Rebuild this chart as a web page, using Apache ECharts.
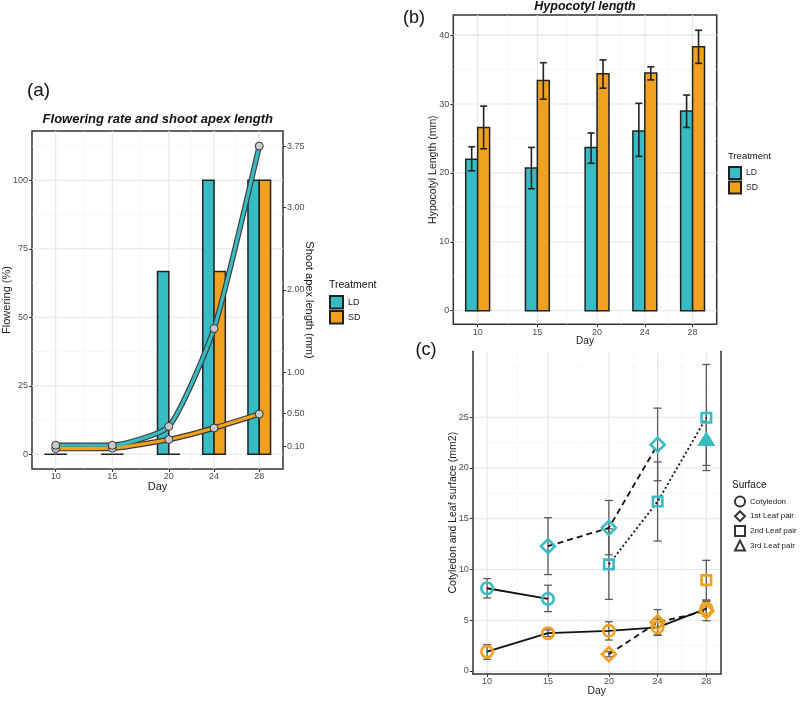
<!DOCTYPE html>
<html><head><meta charset="utf-8">
<script src="https://cdn.jsdelivr.net/npm/echarts@6/dist/echarts.min.js"></script>
<style>html,body{margin:0;padding:0;background:#fff}#c{width:800px;height:701px}</style>
</head><body><div id="c"></div><script>
// ---------- shared ----------
const days = [10, 15, 20, 24, 28];
// ---------- (a) flowering rate (%) and shoot apex length (mm) ----------
const flowerLD = [0, 0, 66.7, 100, 100];
const flowerSD = [0, 0, 0, 66.7, 100];
const apexLD = [0.11, 0.11, 0.34, 1.53, 3.75];
const apexSD = [0.07, 0.075, 0.18, 0.32, 0.49];
const flowerTicks = [0, 25, 50, 75, 100];
const apexTicks = [0.10, 0.50, 1.00, 2.00, 3.00, 3.75];
// ---------- (b) hypocotyl length (mm) ----------
const hypoLD   = [22.0, 20.7, 23.7, 26.1, 29.0];
const hypoLDlo = [20.3, 17.7, 21.4, 22.4, 26.6];
const hypoLDhi = [23.8, 23.7, 25.8, 30.1, 31.3];
const hypoSD   = [26.6, 33.4, 34.4, 34.5, 38.3];
const hypoSDlo = [23.5, 30.7, 32.3, 33.5, 35.9];
const hypoSDhi = [29.7, 36.0, 36.4, 35.4, 40.7];
const hypoTicks = [0, 10, 20, 30, 40];
// ---------- (c) cotyledon and leaf surface (mm2) ----------
const ldCotDays = [10, 15];          const ldCot = [8.15, 7.1];   const ldCotLo = [7.2, 5.85];  const ldCotHi = [9.1, 8.45];
const ldL1Days = [15, 20, 24];       const ldL1 = [12.3, 14.1, 22.3]; const ldL1Lo = [9.5, 11.45, 18.75]; const ldL1Hi = [15.1, 16.8, 25.9];
const ldL2Days = [20, 24, 28];       const ldL2 = [10.5, 16.7, 24.95]; const ldL2Lo = [7.05, 12.8, 19.75]; const ldL2Hi = [14.0, 20.6, 30.2];
const ldL3Days = [28];               const ldL3 = [22.9];        const ldL3Lo = [20.25];      const ldL3Hi = [25.4];
const sdCotDays = [10, 15, 20, 24, 28]; const sdCot = [1.9, 3.72, 3.95, 4.3, 6.15]; const sdCotLo = [1.15, 3.4, 3.05, 3.5, 5.4]; const sdCotHi = [2.6, 4.05, 4.85, 5.1, 6.9];
const sdL1Days = [20, 24, 28];       const sdL1 = [1.65, 4.8, 5.9];  const sdL1Lo = [1.4, 3.55, 4.95]; const sdL1Hi = [1.9, 6.05, 6.85];
const sdL2Days = [28];               const sdL2 = [8.95];        const sdL2Lo = [7.0];        const sdL2Hi = [10.9];
const surfTicks = [0, 5, 10, 15, 20, 25];
const surfaceNames = ['Cotyledon', '1st Leaf pair', '2nd Leaf pair', '3rd Leaf pair'];

const teal = '#38BCC3', orange = '#F2A11F';
const FONT = "'Liberation Sans', Arial, Helvetica, sans-serif";
const BAR = 1; // bar width in days

function mids(arr) { const r = []; for (let i = 0; i < arr.length - 1; i++) r.push((arr[i] + arr[i + 1]) / 2); return r; }

function gridSeries(xi, yi, xMaj, xMin, yMaj, yMin) {
  const data = [];
  xMaj.forEach(v => data.push([v, 0])); xMin.forEach(v => data.push([v, 1]));
  yMaj.forEach(v => data.push([v, 2])); yMin.forEach(v => data.push([v, 3]));
  return {
    type: 'custom', xAxisIndex: xi, yAxisIndex: yi, silent: true, z: 0, data,
    renderItem(params, api) {
      const v = api.value(0), k = api.value(1), cs = params.coordSys;
      let shape;
      if (k < 2) { const x = api.coord([v, 0])[0]; shape = { x1: x, y1: cs.y, x2: x, y2: cs.y + cs.height }; }
      else { const y = api.coord([0, v])[1]; shape = { x1: cs.x, y1: y, x2: cs.x + cs.width, y2: y }; }
      const major = (k % 2 === 0);
      return { type: 'line', shape, style: { stroke: major ? '#E6E6E6' : '#F1F1F1', lineWidth: major ? 1.1 : 0.6 } };
    }
  };
}

function barSeries(name, xi, yi, vals, color, side) {
  return {
    type: 'custom', name, xAxisIndex: xi, yAxisIndex: yi, z: 2,
    itemStyle: { color, borderColor: '#222', borderWidth: 1.5 },
    data: days.map((d, i) => [d, vals[i]]),
    renderItem(params, api) {
      const d = api.value(0), v = api.value(1);
      const x0 = side < 0 ? d - BAR : d, x1 = side < 0 ? d : d + BAR;
      const p0 = api.coord([x0, 0]), p1 = api.coord([x1, v]);
      return { type: 'rect', shape: { x: p0[0], y: p1[1], width: p1[0] - p0[0], height: p0[1] - p1[1] },
        style: { fill: color, stroke: '#222', lineWidth: 1.5 } };
    }
  };
}

function errSeries(xi, yi, ds, lo, hi, offset, color, lw, cap, z) {
  return {
    type: 'custom', xAxisIndex: xi, yAxisIndex: yi, silent: true, z,
    data: ds.map((d, i) => [d, lo[i], hi[i]]),
    renderItem(params, api) {
      const d = api.value(0);
      const pl = api.coord([d + offset, api.value(1)]), ph = api.coord([d + offset, api.value(2)]);
      const st = { stroke: color, lineWidth: lw };
      return { type: 'group', children: [
        { type: 'line', shape: { x1: pl[0], y1: pl[1], x2: ph[0], y2: ph[1] }, style: st },
        { type: 'line', shape: { x1: pl[0] - cap, y1: pl[1], x2: pl[0] + cap, y2: pl[1] }, style: st },
        { type: 'line', shape: { x1: ph[0] - cap, y1: ph[1], x2: ph[0] + cap, y2: ph[1] }, style: st }
      ] };
    }
  };
}

function apexSeries(vals, color) {
  const data = days.map((d, i) => [d, vals[i]]);
  return [
    { type: 'line', xAxisIndex: 0, yAxisIndex: 1, data, smooth: 0.18, symbol: 'none', z: 3,
      lineStyle: { color: '#3a3a3a', width: 5.5 } },
    { type: 'line', xAxisIndex: 0, yAxisIndex: 1, data, smooth: 0.18, symbol: 'circle', symbolSize: 8, z: 4,
      lineStyle: { color, width: 3.2 }, itemStyle: { color: '#C9C9C9', borderColor: '#333', borderWidth: 1 } }
  ];
}

function leafSeries(ds, ms, color, symbol, size, dash, filled) {
  return { type: 'line', xAxisIndex: 2, yAxisIndex: 3, z: 5, data: ds.map((d, i) => [d, ms[i]]),
    symbol, symbolSize: size, showSymbol: true,
    lineStyle: { color: '#111', width: 1.8, type: dash },
    itemStyle: { color: filled ? color : 'rgba(0,0,0,0)', borderColor: color, borderWidth: filled ? 0 : 2.6 } };
}

const tickLbl = (fs) => ({ fontSize: fs, color: '#4D4D4D', fontFamily: FONT });
const nameTs = (fs) => ({ fontSize: fs, color: '#1A1A1A', fontFamily: FONT });

function xAx(gi, min, max, gap, fs, lineShow) {
  return { type: 'value', gridIndex: gi, min, max, name: 'Day', nameLocation: 'middle', nameGap: gap, nameMoveOverlap: false, nameTextStyle: nameTs(fs),
    axisLine: { show: lineShow, onZero: false, lineStyle: { color: '#333', width: 1.5 } }, splitLine: { show: false },
    axisTick: { show: true, length: 3, lineStyle: { color: '#333' }, customValues: days },
    axisLabel: { customValues: days, margin: 3.5, ...tickLbl(9) } };
}
function yAx(gi, min, max, ticks, name, gap, fs, opts) {
  return Object.assign({ type: 'value', gridIndex: gi, min, max, name, nameLocation: 'middle', nameGap: gap, nameMoveOverlap: false, nameTextStyle: nameTs(fs),
    axisLine: { show: false, onZero: false }, splitLine: { show: false },
    axisTick: { show: true, length: 3, lineStyle: { color: '#333' }, customValues: ticks },
    axisLabel: { customValues: ticks, margin: 4, ...tickLbl(9) } }, opts || {});
}

const series = [
  gridSeries(0, 0, days, mids(days), flowerTicks, [12.5, 37.5, 62.5, 87.5, 112.5]),
  gridSeries(1, 2, days, mids(days), hypoTicks, [5, 15, 25, 35]),
  gridSeries(2, 3, days, mids(days), surfTicks, [2.5, 7.5, 12.5, 17.5, 22.5, 27.5, 30]),
  barSeries('LD', 0, 0, flowerLD, teal, -1),
  barSeries('SD', 0, 0, flowerSD, orange, 1),
  ...apexSeries(apexSD, orange),
  ...apexSeries(apexLD, teal),
  barSeries('LD', 1, 2, hypoLD, teal, -1),
  barSeries('SD', 1, 2, hypoSD, orange, 1),
  errSeries(1, 2, days, hypoLDlo, hypoLDhi, -BAR / 2, '#222', 1.6, 3.5, 4),
  errSeries(1, 2, days, hypoSDlo, hypoSDhi, BAR / 2, '#222', 1.6, 3.5, 4),
  errSeries(2, 3, ldCotDays, ldCotLo, ldCotHi, 0, '#5A5A5A', 1.3, 4, 3),
  errSeries(2, 3, ldL1Days, ldL1Lo, ldL1Hi, 0, '#5A5A5A', 1.3, 4, 3),
  errSeries(2, 3, ldL2Days, ldL2Lo, ldL2Hi, 0, '#5A5A5A', 1.3, 4, 3),
  errSeries(2, 3, ldL3Days, ldL3Lo, ldL3Hi, 0, '#5A5A5A', 1.3, 4, 3),
  errSeries(2, 3, sdCotDays, sdCotLo, sdCotHi, 0, '#5A5A5A', 1.3, 4, 3),
  errSeries(2, 3, sdL1Days, sdL1Lo, sdL1Hi, 0, '#5A5A5A', 1.3, 4, 3),
  errSeries(2, 3, sdL2Days, sdL2Lo, sdL2Hi, 0, '#5A5A5A', 1.3, 4, 3),
  leafSeries(ldCotDays, ldCot, teal, 'circle', 11.5, 'solid', false),
  leafSeries(ldL1Days, ldL1, teal, 'diamond', 14, [6, 4], false),
  leafSeries(ldL2Days, ldL2, teal, 'rect', 9.5, [2, 2.5], false),
  leafSeries(ldL3Days, ldL3, teal, 'triangle', [18, 15], 'solid', true),
  leafSeries(sdCotDays, sdCot, orange, 'circle', 11.5, 'solid', false),
  leafSeries(sdL1Days, sdL1, orange, 'diamond', 14, [6, 4], false),
  leafSeries(sdL2Days, sdL2, orange, 'rect', 9.5, [2, 2.5], false),
  ...surfaceNames.map(n => ({ type: 'scatter', name: n, xAxisIndex: 2, yAxisIndex: 3, data: [],
    itemStyle: { color: 'rgba(0,0,0,0)', borderColor: '#000', borderWidth: 2 } }))
];

const txt = (x, y, text, font, align) => ({ type: 'text', x, y, silent: true,
  style: { text, font, fill: '#111', align: align || 'center', verticalAlign: 'middle', textAlign: align || 'center', textVerticalAlign: 'middle' } });

const option = {
  animation: false,
  backgroundColor: '#fff',
  grid: [
    { left: 32, top: 131, width: 251, height: 338, show: true, borderColor: '#333', borderWidth: 1.5, backgroundColor: 'transparent' },
    { left: 453.3, top: 15, width: 263.4, height: 309.3, show: true, borderColor: '#333', borderWidth: 1.5, backgroundColor: 'transparent' },
    { left: 472.7, top: 351.3, width: 248, height: 322.7, show: false }
  ],
  xAxis: [
    xAx(0, 7.9, 30.1, 12, 11, false),
    xAx(1, 7.96, 30.02, 12, 10, false),
    xAx(2, 8.82, 29.18, 12.5, 10.3, true)
  ],
  yAxis: [
    yAx(0, -5.36, 118.0, flowerTicks, 'Flowering (%)', 19.5, 11),
    yAx(0, -5.36 / 30, 118.0 / 30, apexTicks, 'Shoot apex length (mm)', 20.5, 11, {
      position: 'right', nameRotate: -90,
      axisLabel: { customValues: apexTicks, margin: 4, formatter: v => v.toFixed(2), ...tickLbl(9) } }),
    yAx(1, -1.97, 42.92, hypoTicks, 'Hypocotyl Length (mm)', 15, 10.5),
    yAx(2, -0.3, 31.5, surfTicks, 'Cotyledon and Leaf surface (mm2)', 14.5, 10.5, {
      axisLine: { show: true, onZero: false, lineStyle: { color: '#333', width: 1.5 } } }),
    { type: 'value', gridIndex: 2, min: -0.3, max: 31.5, position: 'right', axisLine: { show: true, onZero: false, lineStyle: { color: '#333', width: 1.5 } },
      axisTick: { show: false }, axisLabel: { show: false }, splitLine: { show: false } }
  ],
  legend: [
    { data: ['LD', 'SD'], left: 329, top: 295, orient: 'vertical', icon: 'rect', itemWidth: 13, itemHeight: 12.5, itemGap: 0.5, padding: 0,
      selectedMode: false, textStyle: { fontSize: 9, color: '#1A1A1A', fontFamily: FONT } },
    { data: ['LD', 'SD'], left: 728, top: 166, orient: 'vertical', icon: 'rect', itemWidth: 12, itemHeight: 12, itemGap: 0.5, padding: 0,
      selectedMode: false, textStyle: { fontSize: 8.5, color: '#1A1A1A', fontFamily: FONT } },
    { data: [{ name: surfaceNames[0], icon: 'circle' }, { name: surfaceNames[1], icon: 'diamond' }, { name: surfaceNames[2], icon: 'rect' }, { name: surfaceNames[3], icon: 'triangle' }],
      left: 734, top: 495.5, orient: 'vertical', itemWidth: 10, itemHeight: 10, itemGap: 2.7, padding: 0,
      selectedMode: false, textStyle: { fontSize: 8, color: '#1A1A1A', fontFamily: FONT } }
  ],
  graphic: [
    txt(38.5, 90.7, '(a)', '19px ' + FONT),
    txt(157.8, 119.3, 'Flowering rate and shoot apex length', 'italic bold 13px ' + FONT),
    txt(414, 18, '(b)', '18px ' + FONT),
    txt(585, 6.5, 'Hypocotyl length', 'italic bold 12.5px ' + FONT),
    txt(426, 350, '(c)', '18px ' + FONT),
    txt(329, 285, 'Treatment', '10.5px ' + FONT, 'left'),
    txt(728, 156, 'Treatment', '9.5px ' + FONT, 'left'),
    txt(732, 485, 'Surface', '10px ' + FONT, 'left')
  ],
  series
};
const chart = echarts.init(document.getElementById('c'), null, { renderer: 'canvas' });
chart.setOption(option);
</script></body></html>
